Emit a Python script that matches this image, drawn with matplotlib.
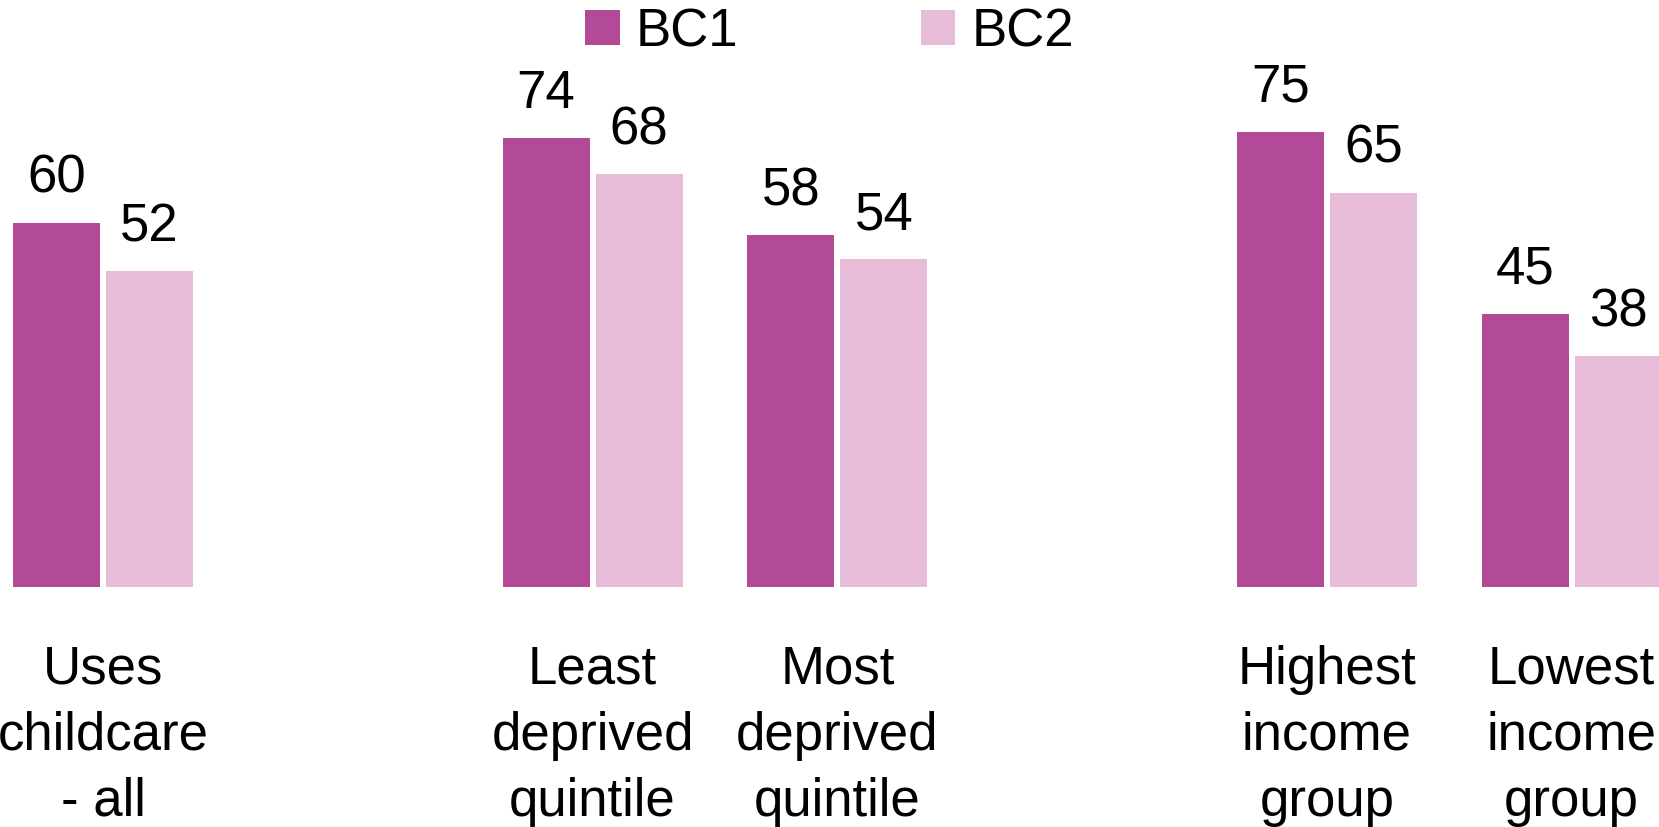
import matplotlib
matplotlib.use("Agg")
import matplotlib.pyplot as plt
import numpy as np

plt.rcParams['font.family'] = ['Liberation Sans', 'DejaVu Sans']

categories = ["Uses\nchildcare\n- all", "", "Least\ndeprived\nquintile", "Most\ndeprived\nquintile",
              "", "Highest\nincome\ngroup", "Lowest\nincome\ngroup"]
bc1 = [60, None, 74, 58, None, 75, 45]
bc2 = [52, None, 68, 54, None, 65, 38]
series_names = ["BC1", "BC2"]
colors = ["#B24A97", "#E6BCD9"]

fig = plt.figure(figsize=(16.59, 8.28), dpi=100)
ax = fig.add_axes([0, 0.2899, 1, 0.7101])

x = np.arange(len(categories))
width = 0.355
offsets = [-0.19, 0.19]
FS = 38

for vals, off, col, name in zip([bc1, bc2], offsets, colors, series_names):
    idx = [i for i, v in enumerate(vals) if v is not None]
    v = [vals[i] for i in idx]
    ax.bar(x[idx] + off, v, width=width, color=col, label=name)
    for xi, vi in zip(x[idx] + off, v):
        ax.annotate(f"{vi}", (xi, vi), xytext=(0, 22.3), textcoords="offset points",
                    ha="center", va="baseline", fontsize=FS, color="black",
                    annotation_clip=False)

ax.set_xlim(-0.421, 6.357)
ax.set_ylim(0, 96.9)
for s in ax.spines.values():
    s.set_visible(False)
ax.set_yticks([])
tick_idx = [i for i, c in enumerate(categories) if c]
ax.set_xticks(x[tick_idx])
ax.set_xticklabels([categories[i] for i in tick_idx], fontsize=FS, linespacing=1.41)
ax.tick_params(axis="x", length=0, pad=41)

fig.legend(loc="upper center", bbox_to_anchor=(0.5, 1.0), ncol=2, frameon=False,
           fontsize=FS, handlelength=0.66, handleheight=0.66, handletextpad=0.3,
           columnspacing=3.45, borderaxespad=0, borderpad=0.15)

fig.savefig("out.png", dpi=100)
